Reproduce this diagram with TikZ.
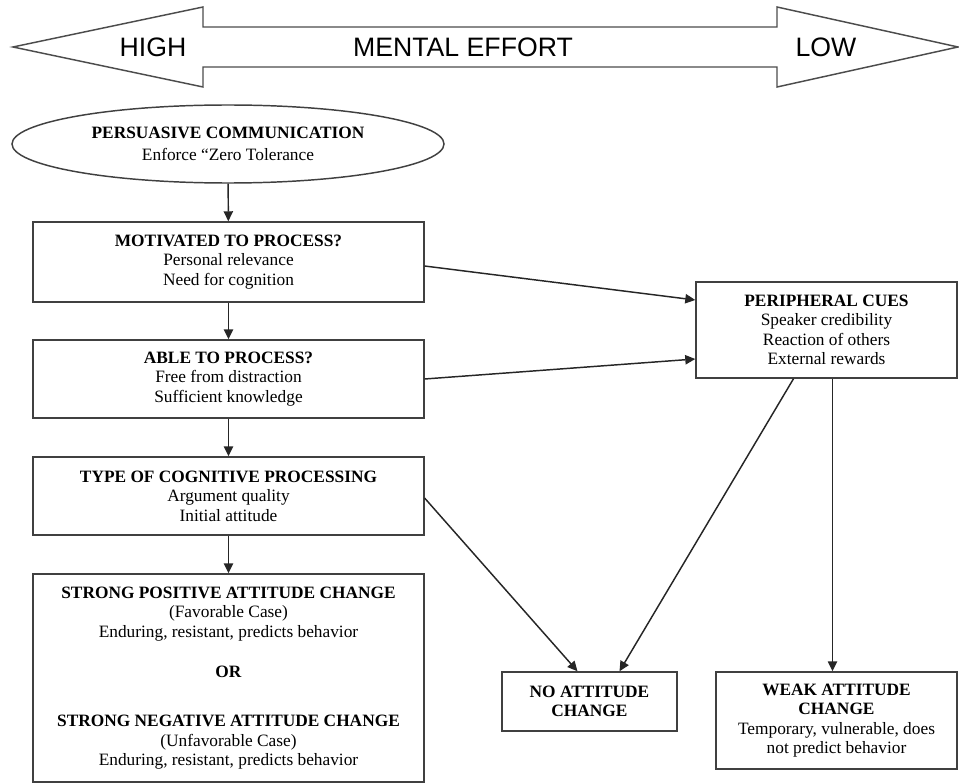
\documentclass[tikz,border=0pt]{standalone}
\usepackage{fontspec}
\setmainfont{Liberation Serif}
\newfontfamily\headfont{Liberation Sans}
\usetikzlibrary{arrows.meta, calc, shapes.geometric}

\begin{document}
\begin{tikzpicture}[x=0.75pt, y=-0.75pt,
    box/.style={draw=black!75, line width=1.1pt, align=center, inner sep=2pt,
        font=\fontsize{13}{14.6}\selectfont},
    arr/.style={-{Triangle[length=7.5pt,width=7pt]}, line width=1.1pt, black!85}]
    \useasboundingbox (0,0) rectangle (959,784);

    % Mental effort arrow
    \draw[black!70, line width=1.1pt] (13,47) -- (203,7) -- (203,27) -- (777,27) -- (777,7)
        -- (958,47) -- (777,87) -- (777,67) -- (203,67) -- (203,87) -- cycle;
    \node[font=\headfont\fontsize{20}{24}\selectfont] (high) at (153,47) {HIGH};
    \node[font=\headfont\fontsize{20}{24}\selectfont] (effort) at (463,47) {MENTAL EFFORT};
    \node[font=\headfont\fontsize{20}{24}\selectfont] (low) at (826,47) {LOW};

    % Central route
    \node[box, ellipse, minimum width=324pt, minimum height=58.5pt, inner sep=0pt] (comm) at (228,144)
        {\textbf{PERSUASIVE COMMUNICATION}\\[2pt] Enforce “Zero Tolerance};
    \node[box, minimum width=293pt, minimum height=60pt] (motiv) at (228.5,262)
        {\textbf{MOTIVATED TO PROCESS?}\\ Personal relevance\\ Need for cognition};
    \node[box, minimum width=293pt, minimum height=58.5pt] (able) at (228.5,379)
        {\textbf{ABLE TO PROCESS?}\\ Free from distraction\\ Sufficient knowledge};
    \node[box, minimum width=293pt, minimum height=58.5pt] (cogn) at (228.5,496)
        {\textbf{TYPE OF COGNITIVE PROCESSING}\\ Argument quality\\ Initial attitude};
    \node[box, minimum width=293pt, minimum height=156pt] (strong) at (228.5,678)
        {\textbf{STRONG POSITIVE ATTITUDE CHANGE}\\ (Favorable Case)\\ Enduring, resistant, predicts behavior\\[16pt]
         \textbf{OR}\\[22pt]
         \textbf{STRONG NEGATIVE ATTITUDE CHANGE}\\ (Unfavorable Case)\\ Enduring, resistant, predicts behavior};

    % Peripheral route
    \node[box, minimum width=195.75pt, minimum height=72pt] (periph) at (826.5,330)
        {\textbf{PERIPHERAL CUES}\\ Speaker credibility\\ Reaction of others\\ External rewards};
    \node[box, minimum width=131.25pt, minimum height=44.25pt] (nochange) at (589.5,701.5)
        {\textbf{NO ATTITUDE}\\ \textbf{CHANGE}};
    \node[box, minimum width=180.75pt, minimum height=72.75pt] (weak) at (836.5,720.5)
        {\textbf{WEAK ATTITUDE}\\ \textbf{CHANGE}\\ Temporary, vulnerable, does\\ not predict behavior};

    % Arrows
    \draw[arr] (comm) -- (motiv);
    \draw[arr] (motiv) -- (able);
    \draw[arr] (able) -- (cogn);
    \draw[arr] (cogn) -- (strong);
    \draw[arr] ($(motiv.east)+(0,4)$) -- ($(periph.west)+(0,-30)$);
    \draw[arr] (able.east) -- ($(periph.west)+(0,29)$);
    \draw[arr] ($(cogn.east)+(0,2)$) -- ($(nochange.north)+(-12,0)$);
    \draw[arr] ($(periph.south)+(-33,0)$) -- ($(nochange.north)+(30,0)$);
    \draw[arr] ($(periph.south)+(6,0)$) coordinate (pw) -- (pw |- weak.north);
\end{tikzpicture}
\end{document}
